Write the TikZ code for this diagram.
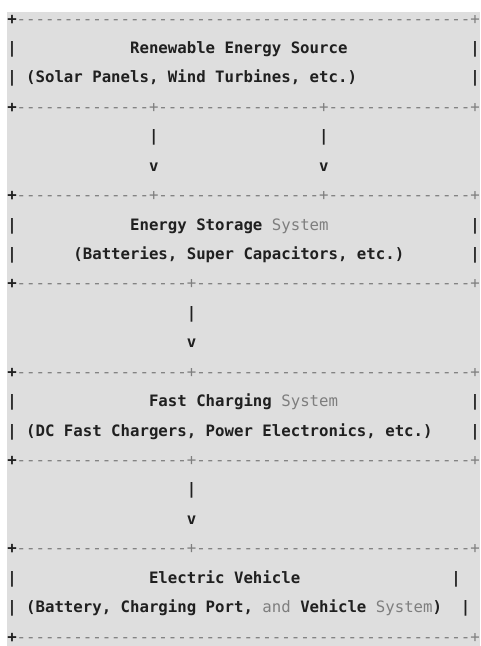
\documentclass[tikz,border=0pt]{standalone}
\usepackage{fontspec}
\setmonofont{DejaVu Sans Mono}
\usepackage{xcolor}
\usetikzlibrary{positioning}
\definecolor{codebg}{HTML}{DEDEDE}
\definecolor{ink}{HTML}{202020}
\definecolor{soft}{HTML}{7E7E7E}
\newcommand{\soft}[1]{{\mdseries\color{soft}#1}}

\begin{document}
\begin{tikzpicture}[
  x=9.45pt, y=-29.43pt,
  font=\fontsize{15.7pt}{18pt}\selectfont\ttfamily\bfseries\frenchspacing,
  ch/.style={anchor=base west, inner sep=0pt, outer sep=0pt, text=ink}]
\fill[codebg] (-0.27pt,12pt) rectangle (472.73pt,-622pt);
\useasboundingbox (-7.27pt,24pt) rectangle (472.73pt,-622pt);
% source
\node[ch] (r0) at (0,0) {+\soft{------------------------------------------------+}};
\node[ch] (l1) at (0,1) {|};
\node[ch] (src) at (13,1) {Renewable Energy Source};
\node[ch] (e1) at (49,1) {|};
\node[ch] (srcsub) at (0,2) {| (Solar Panels, Wind Turbines, etc.)};
\node[ch] (e2) at (49,2) {|};
\node[ch] (r3) at (0,3) {+\soft{--------------+-----------------+---------------+}};
\node[ch] (pa) at (15,4) {|};
\node[ch] (pb) at (33,4) {|};
\node[ch] (va) at (15,5) {v};
\node[ch] (vb) at (33,5) {v};
% storage
\node[ch] (r6) at (0,6) {+\soft{--------------+-----------------+---------------+}};
\node[ch] (l7) at (0,7) {|};
\node[ch] (sto) at (13,7) {Energy Storage \soft{System}};
\node[ch] (e7) at (49,7) {|};
\node[ch] (l8) at (0,8) {|};
\node[ch] (stosub) at (7,8) {(Batteries, Super Capacitors, etc.)};
\node[ch] (e8) at (49,8) {|};
\node[ch] (r9) at (0,9) {+\soft{------------------+-----------------------------+}};
\node[ch] (pc) at (19,10) {|};
\node[ch] (vc) at (19,11) {v};
% charging
\node[ch] (r12) at (0,12) {+\soft{------------------+-----------------------------+}};
\node[ch] (l13) at (0,13) {|};
\node[ch] (chg) at (15,13) {Fast Charging \soft{System}};
\node[ch] (e13) at (49,13) {|};
\node[ch] (chgsub) at (0,14) {| (DC Fast Chargers, Power Electronics, etc.)};
\node[ch] (e14) at (49,14) {|};
\node[ch] (r15) at (0,15) {+\soft{------------------+-----------------------------+}};
\node[ch] (pd) at (19,16) {|};
\node[ch] (vd) at (19,17) {v};
% vehicle
\node[ch] (r18) at (0,18) {+\soft{------------------+-----------------------------+}};
\node[ch] (l19) at (0,19) {|};
\node[ch] (ev) at (15,19) {Electric Vehicle};
\node[ch] (e19) at (47,19) {|};
\node[ch] (evsub) at (0,20) {| (Battery, Charging Port, \soft{and} Vehicle \soft{System})};
\node[ch] (e20) at (48,20) {|};
\node[ch] (r21) at (0,21) {+\soft{------------------------------------------------+}};
\end{tikzpicture}
\end{document}
